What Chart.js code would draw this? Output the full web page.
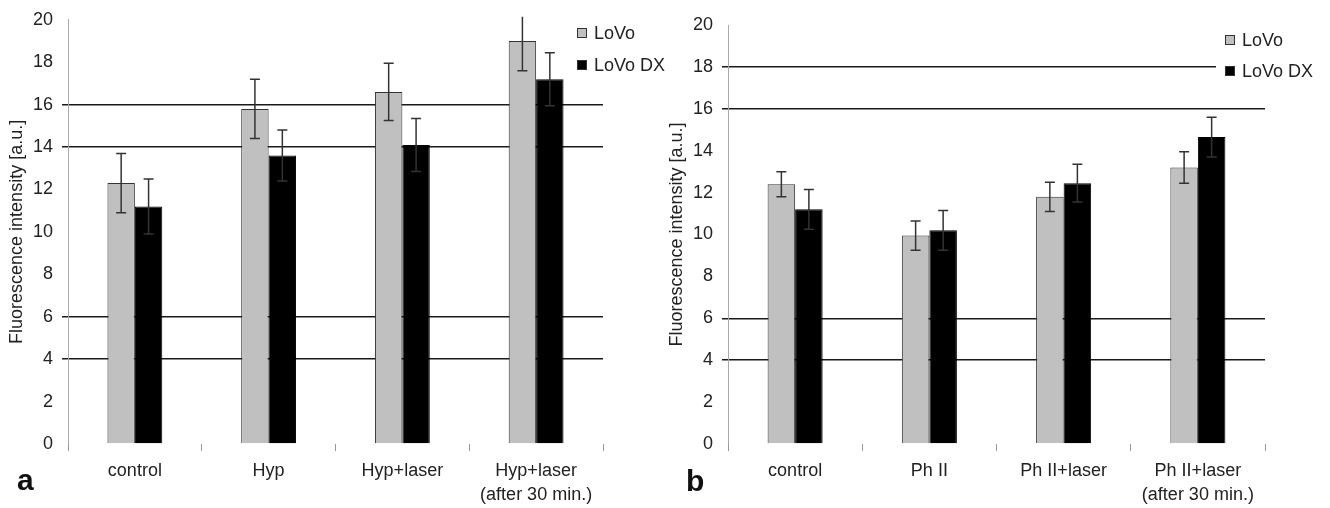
<!DOCTYPE html>
<html>
<head>
<meta charset="utf-8">
<script src="https://cdn.jsdelivr.net/npm/chart.js@4.4.1/dist/chart.umd.min.js"></script>
<style>
  body { margin: 0; background: #fff; }
  #wrap { position: relative; width: 1330px; height: 508px; }
  canvas { position: absolute; top: 0; }
  .panel { position: absolute; font: bold 30px "Liberation Sans", Arial, sans-serif; line-height: 30px; color: #111; }
</style>
</head>
<body>
<div id="wrap">
  <canvas id="chartA" width="665" height="508" style="left:0"></canvas>
  <canvas id="chartB" width="665" height="508" style="left:665px"></canvas>
  <div class="panel" style="left:17px; top:465px">a</div>
  <div class="panel" style="left:686px; top:466px">b</div>
</div>
<script>
// panel a
const categoriesA = ["control", "Hyp", "Hyp+laser", ["Hyp+laser", "(after 30 min.)"]];
const lovoA = [12.3, 15.8, 16.6, 19.0];
const lovoErrA = [1.4, 1.4, 1.35, 1.4];
const lovoDxA = [11.2, 13.6, 14.1, 17.2];
const lovoDxErrA = [1.3, 1.2, 1.25, 1.25];
const gridLinesA = [4, 6, 14, 16];

// panel b
const categoriesB = ["control", "Ph II", "Ph II+laser", ["Ph II+laser", "(after 30 min.)"]];
const lovoB = [12.4, 9.95, 11.8, 13.2];
const lovoErrB = [0.6, 0.7, 0.7, 0.75];
const lovoDxB = [11.2, 10.2, 12.45, 14.65];
const lovoDxErrB = [0.95, 0.95, 0.9, 0.95];
const gridLinesB = [4, 6, 16, 18];

const seriesNames = ["LoVo", "LoVo DX"];
const yTitle = "Fluorescence intensity [a.u.]";

const FONT = "'Liberation Sans', Arial, sans-serif";
const TEXT = "#222";

// error bars from dataset.errors
const errorBarPlugin = {
    id: "errorBars",
    afterDatasetsDraw(chart) {
        const ctx = chart.ctx;
        const y = chart.scales.y;
        const area = chart.chartArea;
        ctx.save();
        ctx.beginPath();
        ctx.rect(0, area.top - 3, chart.width, area.bottom - area.top + 3);
        ctx.clip();
        ctx.strokeStyle = "#333";
        ctx.lineWidth = 1.5;
        chart.data.datasets.forEach((ds, i) => {
            const meta = chart.getDatasetMeta(i);
            meta.data.forEach((bar, j) => {
                const v = ds.data[j];
                const e = ds.errors[j];
                const top = y.getPixelForValue(v + e);
                const bot = y.getPixelForValue(v - e);
                ctx.beginPath();
                ctx.moveTo(bar.x, top);
                ctx.lineTo(bar.x, bot);
                ctx.moveTo(bar.x - 5, top);
                ctx.lineTo(bar.x + 5, top);
                ctx.moveTo(bar.x - 5, bot);
                ctx.lineTo(bar.x + 5, bot);
                ctx.stroke();
            });
        });
        ctx.restore();
    }
};

// legend drawn at a fixed spot next to the plot
function legendPlugin(x, y0, gap, clearFrom) {
    return {
        id: "sideLegend",
        afterDraw(chart) {
            const ctx = chart.ctx;
            ctx.save();
            if (clearFrom) {
                ctx.fillStyle = "#fff";
                ctx.fillRect(clearFrom, y0 + gap - 12, chart.width - clearFrom, 24);
            }
            chart.data.datasets.forEach((ds, i) => {
                const cy = y0 + i * gap;
                ctx.fillStyle = ds.backgroundColor;
                ctx.strokeStyle = "#333";
                ctx.lineWidth = 1;
                ctx.fillRect(x, cy - 5, 10, 10);
                ctx.strokeRect(x + 0.5, cy - 4.5, 9, 9);
                ctx.fillStyle = TEXT;
                ctx.font = "18px " + FONT;
                ctx.textBaseline = "middle";
                ctx.fillText(ds.label, x + 17, cy + 1);
            });
            ctx.restore();
        }
    };
}

function makeChart(canvasEl, labels, lovo, lovoErr, dx, dxErr, gridVals, opts) {
    return new Chart(canvasEl, {
        type: "bar",
        data: {
            labels: labels,
            datasets: [{
                label: seriesNames[0],
                data: lovo,
                errors: lovoErr,
                backgroundColor: "#c0c0c0",
                borderColor: "#333",
                borderWidth: 1
            }, {
                label: seriesNames[1],
                data: dx,
                errors: dxErr,
                backgroundColor: "#000",
                borderColor: "#000",
                borderWidth: 1
            }]
        },
        options: {
            responsive: false,
            animation: false,
            layout: { padding: { top: opts.top, right: opts.right, left: 0, bottom: 0 } },
            plugins: { legend: { display: false }, tooltip: { enabled: false } },
            datasets: { bar: { categoryPercentage: 0.41, barPercentage: 1.0 } },
            scales: {
                x: {
                    grid: { offset: true, drawOnChartArea: false, color: "#999", tickLength: 7 },
                    border: { display: false },
                    ticks: { color: TEXT, font: { family: FONT, size: 18, lineHeight: 1.28 }, padding: 9, maxRotation: 0 },
                    afterFit: s => { s.height = 64; }
                },
                y: {
                    min: 0,
                    max: 20,
                    ticks: { stepSize: 2, color: TEXT, font: { family: FONT, size: 18 }, padding: 9 },
                    grid: {
                        color: c => (c.tick && gridVals.includes(c.tick.value)) ? "#1a1a1a" : "rgba(0,0,0,0)",
                        lineWidth: 1.5,
                        tickLength: 6
                    },
                    border: { color: "#aaa", width: 1 },
                    title: {
                        display: true,
                        text: yTitle,
                        color: TEXT,
                        font: { family: FONT, size: 18 },
                        padding: { top: opts.titlePad, bottom: 0 }
                    },
                    afterFit: s => { s.width = opts.axisX; }
                }
            }
        },
        plugins: [errorBarPlugin, legendPlugin(opts.legX, opts.legY, opts.legGap, opts.clearFrom)]
    });
}

makeChart(document.getElementById("chartA"), categoriesA, lovoA, lovoErrA, lovoDxA, lovoDxErrA, gridLinesA,
    { top: 17, right: 62, axisX: 68, titlePad: 6, legX: 577, legY: 33, legGap: 32, clearFrom: 0 });
makeChart(document.getElementById("chartB"), categoriesB, lovoB, lovoErrB, lovoDxB, lovoDxErrB, gridLinesB,
    { top: 25, right: 65, axisX: 63, titlePad: 1, legX: 560, legY: 40, legGap: 31, clearFrom: 551 });
</script>
</body>
</html>
